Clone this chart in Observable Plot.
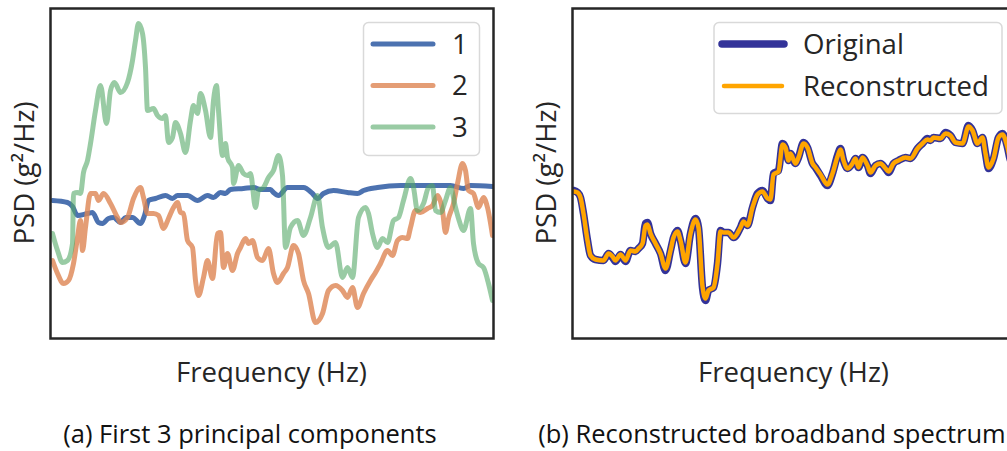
<!DOCTYPE html>
<html><head><meta charset="utf-8">
<script src="https://cdn.jsdelivr.net/npm/d3@7"></script>
<script src="https://cdn.jsdelivr.net/npm/@observablehq/plot@0.6"></script>
<style>
body{margin:0;background:#fff;}
#wrap{position:relative;width:1007px;height:451px;overflow:hidden;font-family:"Open Sans",sans-serif;}
#wrap svg{position:absolute;top:0;}
</style></head><body><div id="wrap"></div>
<script>
// [frequency bin, PSD level (relative)]
const pc1 = [[2,139],[17,137],[22,133],[27,124],[37,126],[42,127],[48,117],[52,116],[58,121],[63,122],[70,117],[75,122],[82,122],[90,116],[94,124],[98,139],[105,141],[115,144],[122,141],[127,144],[137,144],[147,139],[157,144],[163,142],[170,147],[175,146],[180,150],[193,151],[203,152],[210,150],[220,150],[223,147],[228,144],[237,152],[253,152],[262,146],[267,141],[273,146],[283,149],[297,147],[307,146],[313,149],[327,152],[350,154],[367,154],[400,154],[413,151],[420,154],[442,153]];
const pc2 = [[2,79],[7,66],[13,56],[18,59],[23,76],[27,102],[30,119],[32,89],[35,112],[40,146],[45,146],[48,139],[53,146],[60,136],[67,122],[70,117],[77,122],[83,141],[90,152],[93,142],[97,126],[103,126],[108,124],[113,111],[118,121],[123,132],[127,137],[130,127],[133,126],[137,99],[142,92],[145,59],[148,44],[153,62],[157,79],[162,61],[167,106],[170,107],[173,72],[177,86],[182,69],[187,86],[190,92],[195,101],[198,96],[202,99],[207,82],[212,79],[218,91],[223,66],[227,57],[233,66],[237,72],[243,94],[248,86],[253,59],[258,46],[265,17],[272,26],[278,49],[285,54],[292,49],[297,42],[302,52],[307,32],[313,46],[320,59],[325,67],[330,76],[337,89],[342,84],[347,99],[352,102],[357,101],[360,112],[365,129],[370,127],[377,131],[382,134],[387,144],[392,129],[395,107],[398,121],[403,136],[407,156],[412,176],[415,169],[418,149],[423,146],[428,132],[433,142],[437,132],[442,104]];
const pc3 = [[2,106],[7,89],[12,77],[17,79],[22,96],[23,146],[27,147],[30,146],[33,167],[37,179],[40,196],[45,229],[50,254],[56,216],[60,249],[64,257],[70,247],[77,257],[82,279],[85,299],[88,316],[92,306],[95,272],[97,229],[103,231],[107,224],[112,221],[115,224],[118,197],[122,202],[125,217],[130,206],[135,187],[140,219],[143,234],[147,226],[150,246],[155,229],[160,202],[163,239],[166,254],[168,229],[172,184],[175,196],[177,182],[182,172],[183,156],[188,174],[193,166],[197,164],[200,166],[205,132],[208,149],[213,152],[218,162],[223,169],[228,184],[232,164],[235,92],[240,112],[247,119],[253,104],[260,122],[267,144],[272,112],[278,92],[285,97],[292,62],[297,72],[302,62],[308,122],[315,132],[318,126],[322,106],[327,92],[332,101],[337,97],[343,119],[348,122],[353,139],[360,161],[363,152],[367,129],[373,136],[378,152],[382,154],[385,129],[390,127],[395,139],[400,152],[405,132],[408,121],[413,109],[420,131],[423,96],[428,76],[433,72],[438,56],[442,39]];
const original = [[0,149],[4,147],[7,142],[10,126],[14,99],[17,84],[22,80],[30,79],[35,86],[39,82],[42,78],[47,85],[52,78],[57,89],[62,88],[65,91],[69,96],[72,116],[74,117],[77,106],[82,96],[87,86],[92,69],[97,89],[100,102],[104,109],[107,99],[112,76],[117,106],[122,121],[125,112],[129,52],[132,39],[135,49],[140,52],[144,76],[147,109],[150,107],[155,107],[160,102],[167,112],[170,119],[174,114],[179,132],[184,146],[189,149],[194,141],[197,139],[200,166],[205,169],[209,196],[212,192],[215,179],[217,186],[222,176],[225,182],[230,197],[234,192],[239,176],[242,172],[247,164],[254,154],[259,166],[264,184],[267,191],[270,179],[274,171],[279,176],[282,181],[285,172],[289,182],[294,174],[297,166],[302,174],[307,176],[312,171],[315,167],[320,176],[325,179],[332,182],[337,181],[344,191],[349,196],[354,201],[357,199],[360,202],[367,201],[372,207],[377,204],[382,197],[389,196],[395,214],[399,209],[404,196],[409,202],[412,186],[415,171],[420,181],[425,202],[429,206],[434,192],[437,179],[442,174]];
const reconstructed = [[0,148],[4,147],[7,142],[10,126],[14,99],[17,84],[22,80],[30,79],[35,86],[39,83],[42,79],[47,85],[52,79],[57,89],[62,88],[65,91],[69,96],[72,114],[74,115],[77,106],[82,96],[87,86],[92,71],[97,89],[100,102],[104,108],[107,99],[112,77],[117,106],[122,120],[125,112],[129,53],[132,41],[135,49],[140,52],[144,76],[147,108],[150,107],[155,107],[160,102],[167,112],[170,118],[174,114],[179,132],[184,145],[189,148],[194,141],[197,140],[200,165],[205,168],[209,195],[212,192],[215,179],[217,186],[222,176],[225,182],[230,196],[234,192],[239,176],[242,172],[247,165],[254,155],[259,166],[264,183],[267,190],[270,179],[274,171],[279,176],[282,181],[285,172],[289,182],[294,174],[297,167],[302,174],[307,176],[312,171],[315,168],[320,176],[325,179],[332,182],[337,181],[344,191],[349,196],[354,200],[357,199],[360,202],[367,201],[372,206],[377,204],[382,197],[389,196],[395,213],[399,209],[404,196],[409,202],[412,186],[415,172],[420,181],[425,202],[429,205],[434,192],[437,179],[442,174]];

const seriesLabels = ["1","2","3"];
const seriesColors = ["#4C72B0","#DD8452","#55A868"];
const seriesOpacity = [1,0.8,0.6];
const specLabels = ["Original","Reconstructed"];
const captions = ["(a) First 3 principal components","(b) Reconstructed broadband spectrum"];
const xLabel = "Frequency (Hz)";
const yLabel = "PSD (g²/Hz)";

const W=500, H=451, ML=50, MR=7, MT=8, MB=113;
const ink="#262626", FS=27.6;
const wrap=document.getElementById("wrap");

function panel(marks, xdom, left){
  const svg = Plot.plot({width:W,height:H,marginLeft:ML,marginRight:MR,marginTop:MT,marginBottom:MB,
    x:{domain:xdom,axis:null}, y:{domain:[1,331],axis:null},
    style:{background:"transparent",overflow:"visible",fontFamily:"Open Sans"},
    marks:[...marks, Plot.frame({stroke:ink,strokeWidth:2.5})]});
  svg.style.left=left+"px";
  wrap.appendChild(svg);
  const s=d3.select(svg);
  s.append("text").attr("transform",`translate(34,173) rotate(-90)`).attr("text-anchor","middle")
    .attr("font-size",FS).attr("fill",ink).attr("font-family","Open Sans").text(yLabel);
  s.append("text").attr("x",ML+443/2).attr("y",382).attr("text-anchor","middle")
    .attr("font-size",FS).attr("fill",ink).attr("font-family","Open Sans").text(xLabel);
  return s;
}

const pcs=[pc1,pc2,pc3];
const lineOpts = {x:d=>d[0], y:d=>d[1], curve:"monotone-x", strokeLinejoin:"round", strokeLinecap:"round", clip:true};
const sA = panel(pcs.map((d,i)=>Plot.line(d,{...lineOpts, stroke:seriesColors[i], strokeOpacity:seriesOpacity[i], strokeWidth:5})), [0,443], 0);
const sB = panel([
  Plot.line(original,{...lineOpts, stroke:"#000080", strokeOpacity:0.8, strokeWidth:7.5}),
  Plot.line(reconstructed,{...lineOpts, stroke:"#FFA500", strokeWidth:4.5})
], [-1,442], 522);

// captions
[sA,sB].forEach((s,i)=>{
  s.append("text").attr("x",250).attr("y",443).attr("text-anchor","middle").attr("font-size",25.5)
   .attr("fill","#111").attr("font-family","Open Sans").text(captions[i]);
});

// legend A
const gA=sA.append("g");
gA.append("rect").attr("x",363.5).attr("y",22.5).attr("width",116).attr("height",133).attr("rx",5)
  .attr("fill","#fff").attr("fill-opacity",0.8).attr("stroke","#d9d9d9").attr("stroke-width",1.5);
seriesLabels.forEach((lab,i)=>{
  const y=44+i*41.5;
  gA.append("line").attr("x1",373).attr("x2",433).attr("y1",y).attr("y2",y).attr("stroke",seriesColors[i])
    .attr("stroke-opacity",seriesOpacity[i]).attr("stroke-width",5).attr("stroke-linecap","round");
  gA.append("text").attr("x",452).attr("y",y).attr("dy","0.36em").attr("text-anchor","start").attr("font-size",FS).attr("fill",ink)
    .attr("font-family","Open Sans").text(lab);
});
// legend B
const gB=sB.append("g");
gB.append("rect").attr("x",192).attr("y",22.5).attr("width",288).attr("height",91).attr("rx",5)
  .attr("fill","#fff").attr("fill-opacity",0.8).attr("stroke","#d9d9d9").attr("stroke-width",1.5);
[["#000080",0.8,7.5,200,262],["#FFA500",1,4.5,202,260]].forEach((c,i)=>{
  const y=44+i*42;
  gB.append("line").attr("x1",c[3]).attr("x2",c[4]).attr("y1",y).attr("y2",y).attr("stroke",c[0])
    .attr("stroke-opacity",c[1]).attr("stroke-width",c[2]).attr("stroke-linecap","round");
  gB.append("text").attr("x",281).attr("y",y).attr("dy","0.36em").attr("text-anchor","start").attr("font-size",FS).attr("fill",ink)
    .attr("font-family","Open Sans").text(specLabels[i]);
});
</script></body></html>
